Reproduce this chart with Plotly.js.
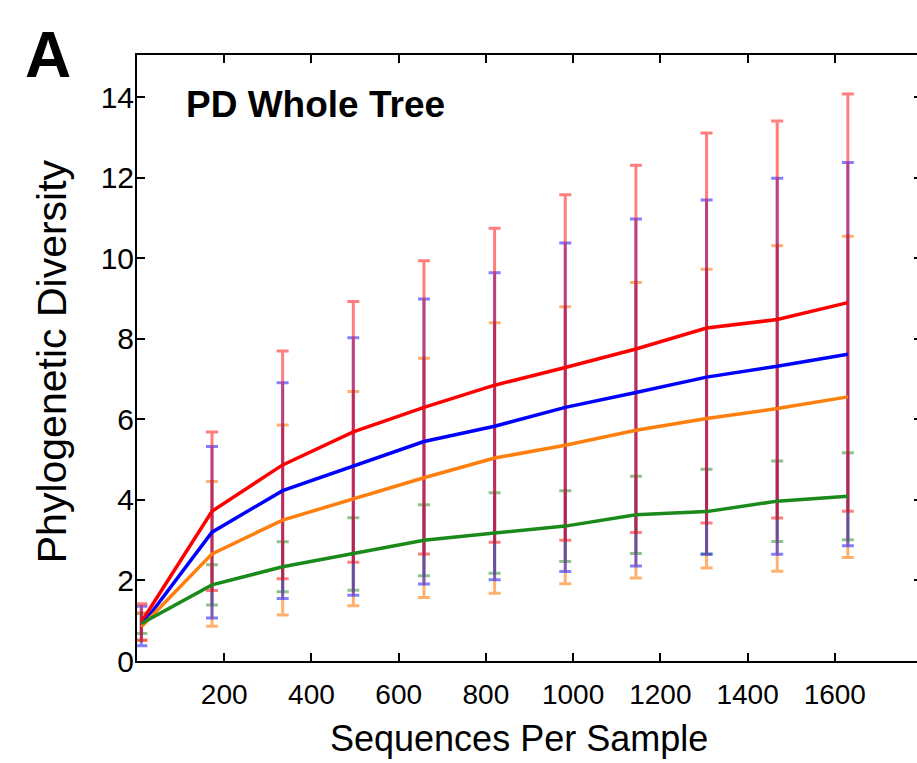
<!DOCTYPE html>
<html>
<head>
<meta charset="utf-8">
<script src="https://cdn.plot.ly/plotly-3.0.1.min.js"></script>
<style>
html, body { margin: 0; padding: 0; overflow: hidden; background: #fff; width: 917px; height: 763px; }
#chart { width: 922px; height: 763px; }
</style>
</head>
<body>
<div id="chart"></div>
<script>
// Sequences per sample (rarefaction depths)
const depths = [10, 172, 334, 496, 658, 820, 982, 1144, 1306, 1468, 1630];
const xTickVals = [200, 400, 600, 800, 1000, 1200, 1400, 1600];
const yTickVals = [0, 2, 4, 6, 8, 10, 12, 14];

// Series means and standard deviations
const redMean    = [0.97, 3.72, 4.87, 5.69, 6.30, 6.85, 7.29, 7.75, 8.27, 8.48, 8.90];
const redSd      = [0.45, 1.97, 2.83, 3.24, 3.64, 3.90, 4.29, 4.56, 4.84, 4.93, 5.18];
const blueMean   = [0.87, 3.20, 4.23, 4.83, 5.45, 5.83, 6.30, 6.67, 7.05, 7.32, 7.62];
const blueSd     = [0.49, 2.13, 2.68, 3.20, 3.54, 3.81, 4.08, 4.31, 4.40, 4.67, 4.76];
const orangeMean = [0.85, 2.66, 3.50, 4.03, 4.55, 5.04, 5.36, 5.73, 6.02, 6.27, 6.56];
const orangeSd   = [0.35, 1.80, 2.36, 2.66, 2.97, 3.36, 3.44, 3.67, 3.71, 4.04, 3.99];
const greenMean  = [0.93, 1.89, 2.34, 2.66, 3.00, 3.18, 3.35, 3.63, 3.71, 3.97, 4.09];
const greenSd    = [0.25, 0.50, 0.62, 0.90, 0.88, 1.00, 0.88, 0.96, 1.05, 1.00, 1.08];

const series = [
  {name: 'Group 1', mean: redMean,    sd: redSd,    line: '#ff0000', bar: 'rgba(255,0,0,0.5)'},
  {name: 'Group 2', mean: blueMean,   sd: blueSd,   line: '#0000ff', bar: 'rgba(0,0,255,0.5)'},
  {name: 'Group 3', mean: orangeMean, sd: orangeSd, line: '#ff7f0e', bar: 'rgba(255,127,14,0.6)'},
  {name: 'Group 4', mean: greenMean,  sd: greenSd,  line: '#1a8a1a', bar: 'rgba(26,138,26,0.5)'}
];

const traces = [];
// error bars first (green at the bottom, red on top), then the mean lines
series.slice().reverse().forEach(s => {
  traces.push({
    x: depths, y: s.mean, type: 'scatter', mode: 'markers',
    marker: {size: 1, opacity: 0}, showlegend: false, hoverinfo: 'skip',
    error_y: {type: 'data', symmetric: true, array: s.sd, color: s.bar, thickness: 3, width: 6}
  });
});
series.forEach(s => {
  traces.push({
    x: depths, y: s.mean, type: 'scatter', mode: 'lines', name: s.name,
    line: {color: s.line, width: 3.5}, showlegend: false
  });
});

const font = 'Liberation Sans, Arial, sans-serif';
const layout = {
  width: 922, height: 763,
  margin: {l: 137, r: 0, t: 55, b: 102},
  paper_bgcolor: '#fff', plot_bgcolor: '#fff',
  showlegend: false,
  font: {family: font, color: '#000'},
  xaxis: {
    range: [0, 1800], tickvals: xTickVals, ticktext: xTickVals.map(String),
    showgrid: false, zeroline: false,
    showline: true, linecolor: '#000', linewidth: 2, mirror: 'ticks',
    ticks: 'inside', ticklen: 8, tickwidth: 2, tickcolor: '#000',
    tickfont: {size: 28, family: font, color: '#000'},
    ticklabelstandoff: 7
  },
  yaxis: {
    range: [0, 15.05], tickvals: yTickVals, ticktext: yTickVals.map(String),
    showgrid: false, zeroline: false,
    showline: true, linecolor: '#000', linewidth: 2, mirror: 'ticks',
    ticks: 'inside', ticklen: 8, tickwidth: 2, tickcolor: '#000',
    tickfont: {size: 30, family: font, color: '#000'},
    ticklabelstandoff: -5
  },
  annotations: [
    {text: 'Sequences Per Sample', xref: 'paper', yref: 'paper', x: 0.486, y: -0.128,
     xanchor: 'center', yanchor: 'middle', showarrow: false,
     font: {size: 36, family: font, color: '#000'}},
    {text: 'Phylogenetic Diversity', xref: 'paper', yref: 'paper', x: -0.108, y: 0.495,
     xanchor: 'center', yanchor: 'middle', showarrow: false, textangle: -90,
     font: {size: 41, family: font, color: '#000'}},
    {text: '<b>A</b>', xref: 'paper', yref: 'paper', x: -0.113, y: 1.0,
     xanchor: 'center', yanchor: 'middle', showarrow: false,
     font: {size: 64, family: font, color: '#000'}},
    {text: '<b>PD Whole Tree</b>', xref: 'paper', yref: 'paper', x: 0.0595, y: 0.9175,
     xanchor: 'left', yanchor: 'middle', showarrow: false,
     font: {size: 37, family: font, color: '#000'}}
  ]
};

Plotly.newPlot('chart', traces, layout, {displayModeBar: false, staticPlot: true});
</script>
</body>
</html>
